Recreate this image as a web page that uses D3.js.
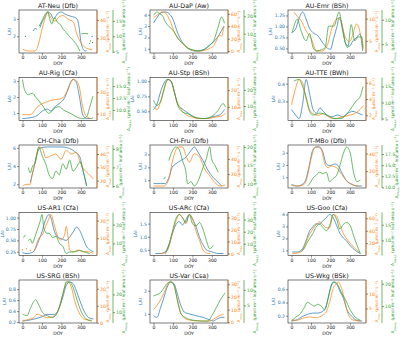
<!DOCTYPE html>
<html><head><meta charset="utf-8">
<script src="https://cdn.jsdelivr.net/npm/d3@7"></script>
<style>body{margin:0;background:#fff} text{font-family:"DejaVu Sans",sans-serif}</style>
</head><body><svg id="c" width="400" height="337"></svg>
<script>
const sites = ["AT-Neu (Dfb)","AU-DaP (Aw)","AU-Emr (BSh)","AU-Rig (Cfa)","AU-Stp (BSh)","AU-TTE (BWh)",
 "CH-Cha (Dfb)","CH-Fru (Dfb)","IT-MBo (Dfb)","US-AR1 (Cfa)","US-ARc (Cfa)","US-Goo (Cfa)",
 "US-SRG (BSh)","US-Var (Csa)","US-Wkg (BSk)"];
const xTicks = ["0","100","200","300"];
const laiTicks = [["1","2","3"],["1","2","3","4"],["0.50","0.75","1.00","1.25"],["1","2","3"],["0.50","0.75","1.00"],["0.3","0.4"],
 ["2","4","6"],["1","2","3"],["1","2","3"],["0.25","0.50","0.75","1.00"],["0.5","1.0","1.5","2.0"],["1","2","3","4"],
 ["0.2","0.4","0.6","0.8"],["1","2"],["0.2","0.4","0.6"]];
const amaxTicks = [["20","40"],["0","20","40","60"],["5","10"],["10","20"],["10","20"],["2","4","6"],
 ["20","30","40"],["20","40"],["0","20","40"],["10","20"],["0","10","20","30"],["20","40","60"],
 ["0","10","20"],["0","10","20","30"],["5","10"]];
const amaxLTicks = [["5","10","15"],["10","20"],["5","10"],["10.0","12.5","15.0"],["10","20"],["5","10","15"],
 ["6","7","8"],["10","15","20"],["10.0","12.5","15.0","17.5"],["10","20"],["0","10","20","30"],["5","10","15"],
 ["10","20"],["5","10"],["10","20"]];

// LAI series [DOY, value]; null = gap
const laiSeries = [
 [[15,2.0],[20,null],[55,2.3],[65,2.45],[75,2.4],[80,null],[90,2.5],[100,2.8],[115,3.1],[130,3.4],[145,3.3],[160,3.0],[180,3.3],[200,3.4],[215,3.3],[235,3.2],[250,3.15],[265,3.1],[280,3.0],[290,2.6],[300,1.7],[310,1.3],[322,1.15],[330,1.2],[335,null],[345,1.6],[350,null],[358,2.0]],
 [[1,3.3],[20,3.8],[40,4.2],[60,4.25],[80,4.1],[100,3.6],[120,2.6],[140,1.8],[160,1.3],[180,1.0],[200,0.85],[220,0.8],[240,0.85],[260,0.95],[280,1.2],[300,1.5],[320,1.8],[340,2.3],[362,3.0]],
 [[0,0.86],[20,0.93],[40,1.2],[57,1.33],[75,1.17],[90,0.98],[110,0.86],[135,0.79],[160,0.63],[180,0.52],[200,0.48],[218,0.75],[235,1.02],[245,1.21],[262,0.98],[280,0.59],[298,0.55],[315,0.67],[335,0.75],[352,0.83],[366,0.44]],
 [[0,0.65],[40,0.7],[75,0.84],[102,1.12],[128,1.24],[146,1.12],[163,1.35],[189,1.59],[216,1.94],[235,2.5],[250,3.0],[262,3.1],[278,2.88],[292,2.06],[310,0.88],[330,0.65],[350,0.65],[362,0.7]],
 [[0,0.53],[18,0.62],[36,0.82],[54,0.97],[72,1.03],[90,1.0],[107,0.82],[125,0.62],[152,0.53],[179,0.47],[206,0.41],[233,0.38],[270,0.38],[304,0.41],[340,0.44],[365,0.53]],
 [[0,0.254],[21,0.224],[39,0.204],[57,0.284],[75,0.424],[93,0.344],[111,0.254],[129,0.234],[146,0.264],[164,0.244],[182,0.224],[209,0.214],[236,0.224],[263,0.214],[289,0.234],[316,0.244],[343,0.234],[365,0.224]],
 [[40,2.2],[58,3.8],[75,5.4],[93,6.0],[128,6.1],[163,6.1],[198,6.1],[233,6.0],[268,5.6],[295,5.0],[312,3.4],[330,1.8]],
 [[0,0.74],[35,0.74],[61,0.74],[79,1.21],[96,2.0],[114,2.26],[140,2.53],[167,2.79],[193,3.3],[210,3.58],[228,3.18],[254,2.53],[281,1.74],[307,1.21],[333,0.82],[351,0.55]],
 [[0,0.42],[30,0.28],[56,0.42],[74,0.83],[91,1.94],[109,3.19],[126,3.47],[144,3.47],[161,3.06],[179,2.08],[196,1.94],[223,2.08],[240,1.94],[258,1.39],[284,0.69],[310,0.42],[337,0.28],[363,0.28]],
 [[0,0.23],[23,0.21],[49,0.23],[67,0.32],[84,0.5],[102,0.71],[119,0.96],[137,1.07],[146,1.0],[163,0.71],[181,0.57],[198,0.54],[225,0.5],[242,0.57],[260,0.68],[277,0.79],[295,0.71],[312,0.54],[330,0.36],[347,0.29],[365,0.25]],
 [[9,0.36],[35,0.36],[61,0.43],[79,0.7],[96,1.1],[114,1.45],[132,1.58],[149,1.45],[167,1.65],[184,1.85],[202,1.65],[219,1.38],[237,0.97],[254,0.7],[272,0.5],[298,0.43],[333,0.36],[360,0.36]],
 [[4,0.87],[30,0.87],[56,1.13],[74,1.78],[91,2.56],[109,2.95],[126,3.21],[144,3.21],[161,3.47],[179,3.73],[196,4.0],[214,3.73],[232,3.08],[249,2.43],[267,2.04],[284,1.78],[302,1.39],[328,1.0],[354,0.74]],
 [[0,0.22],[40,0.24],[75,0.27],[102,0.3],[128,0.34],[163,0.34],[189,0.46],[207,0.65],[224,0.86],[242,0.93],[260,0.9],[277,0.77],[295,0.59],[321,0.37],[347,0.27],[365,0.26]],
 [[0,0.92],[18,0.85],[35,1.23],[53,1.69],[70,2.15],[88,2.38],[105,2.31],[123,1.85],[140,1.38],[158,1.08],[184,1.0],[219,0.92],[254,0.85],[289,0.74],[307,0.69],[324,0.77],[351,0.85],[365,0.85]],
 [[0,0.12],[30,0.14],[56,0.19],[82,0.22],[109,0.24],[135,0.24],[161,0.27],[179,0.35],[196,0.57],[214,0.71],[232,0.68],[249,0.57],[267,0.46],[284,0.3],[310,0.19],[337,0.13],[363,0.12]]
];
// canopy Amax series
const amaxSeries = [
 [[1,8],[20,6.5],[40,6],[60,6],[70,7],[80,12],[95,25],[110,38],[122,46],[130,49],[140,45],[155,40],[168,39],[185,43],[208,45],[235,41],[261,38],[279,25],[305,13.6],[330,9],[358,7.5]],
 [[1,54],[20,58],[45,63],[60,62],[75,55],[90,45],[105,32],[127,20],[155,10],[180,4],[200,1],[230,0],[255,0.5],[285,4],[310,9],[325,18],[337,26],[350,24],[362,40]],
 [[12,11.5],[30,10.5],[48,9.6],[75,7.3],[102,5.4],[129,2.7],[155,2.7],[182,3.8],[209,8],[236,10],[254,9.6],[271,6.5],[298,4.8],[316,6.5],[334,8.8],[352,6.9],[368,3.1]],
 [[0,9.5],[40,9.5],[75,13],[102,14.7],[128,15.6],[163,16.5],[189,16.8],[216,18.2],[242,23.5],[260,26],[275,25.5],[292,22.5],[310,13],[330,8.6],[355,7.7]],
 [[0,10.4],[18,8.3],[45,16.8],[63,24.3],[81,26.4],[98,23.2],[116,14.7],[143,8.3],[170,5.1],[197,4],[233,3],[277,3],[322,4],[349,4.5],[370,6.2]],
 [[0,3.3],[21,5.3],[39,6.4],[57,6.0],[75,4],[93,2.7],[111,2.2],[138,2],[164,2.2],[191,1.8],[227,1.6],[263,1.8],[298,2],[325,2.2],[352,2.7],[370,3.2]],
 [[0,16],[23,17.3],[40,17.3],[49,24],[67,34.7],[84,45.3],[102,44],[119,37.3],[146,38.7],[172,40],[198,36],[225,42.7],[251,40],[277,41.3],[295,34.7],[312,29.3],[338,25.3],[365,21.3]],
 [[0,4.4],[53,4.4],[79,13.3],[96,35.6],[114,51.1],[131,55.6],[149,55.6],[167,44.4],[184,35.6],[210,46.7],[237,42.2],[263,26.7],[289,17.8],[316,8.9],[342,4.4],[368,5.8]],
 [[0,3.8],[30,3.0],[65,4.9],[82,14.3],[100,33.2],[118,46.4],[135,47.5],[153,44.5],[170,29.4],[188,23.8],[205,25.7],[232,23.8],[258,16.2],[284,8.7],[310,4.9],[346,3]],
 [[0,3.5],[5,null],[20,4],[25,null],[40,3],[45,null],[60,2.5],[67,4.8],[84,10],[102,11.9],[119,16.7],[137,21.5],[146,23.5],[163,17.7],[181,11],[198,9],[216,11.9],[225,16.7],[233,11.9],[242,3.3],[260,2.3],[286,3.3],[312,2.3],[338,2.3],[365,1.3]],
 [[35,0],[61,0.5],[79,5.6],[96,15.9],[114,26.2],[132,32.6],[149,30],[167,24.9],[184,32.6],[202,28.7],[219,18.5],[237,10.8],[254,3.1],[272,0.5],[290,0]],
 [[4,3.3],[39,4.8],[56,8.1],[74,21],[91,32.9],[109,42.4],[126,49.5],[144,54.3],[161,49.5],[179,44.8],[196,44.8],[214,66.2],[232,63.8],[249,49.5],[267,35.2],[293,23.3],[319,13.8],[345,6.7]],
 [[0,1],[32,2],[58,3],[75,5],[102,4],[128,3],[163,4],[189,9],[207,17],[224,23],[233,24],[251,21],[268,13],[295,5],[321,2],[356,1.4]],
 [[0,10],[26,15.1],[53,22.8],[70,29.2],[88,31.8],[105,29.2],[123,17.7],[140,7.4],[158,3.6],[184,1.8],[237,1],[289,1],[307,2.3],[333,4.9],[360,6.2]],
 [[0,1.1],[30,1.1],[56,1.7],[91,2.2],[126,1.9],[161,2.8],[179,3.9],[196,7.2],[214,11.7],[232,13.3],[240,13.9],[258,11.7],[275,7.2],[293,2.8],[319,1.1],[354,0.8]]
];
// leaf-level Amax series
const amaxLSeries = [
 [[85,13.2],[100,15],[115,17],[130,17.9],[140,15.5],[150,14],[165,16],[180,14.5],[195,13.8],[210,12.2],[225,11.2],[240,10],[255,9],[270,8],[285,6.5],[295,5.2],[298,null],[302,10.8],[320,10.9],[338,10.8],[342,null],[350,8.5],[354,null],[360,8]],
 [[1,20.6],[18,22.5],[30,21.5],[45,20.6],[60,17],[80,14],[100,12],[127,7],[155,4],[180,1.5],[200,0.8],[230,0],[255,0.5],[285,3],[310,6],[330,13],[350,19.6],[365,16]],
 [[4,7.4],[30,10.1],[48,7.9],[75,5.7],[93,7.2],[111,4.3],[129,3.6],[155,3.9],[173,4.3],[191,8.7],[218,8.7],[245,11.6],[262,7.9],[289,4.3],[307,9.0],[325,5.7],[343,6.5],[361,6.5],[368,4.3]],
 [[0,16.4],[10,14.3],[30,13.2],[50,13.5],[70,12.6],[100,11.1],[118,10],[135,9.3],[153,9.8],[170,10.5],[190,10.7],[210,10],[230,9.6],[250,9.2],[285,8.4],[310,8.2],[330,8.6],[345,10.5],[362,12.9]],
 [[0,13.6],[18,10.4],[36,12.6],[54,20],[72,26.4],[90,25.3],[107,18.9],[125,10.4],[152,6.2],[179,5.1],[215,3],[260,2.3],[304,4],[331,7.2],[358,11.5],[370,9.4]],
 [[12,16.7],[39,17.2],[57,15],[75,11.7],[93,7.2],[111,6.1],[146,6.7],[182,6.1],[218,5],[254,5],[280,6.1],[307,8.3],[334,10.6],[352,11.7],[368,15]],
 [[30,7],[40,6.7],[49,7],[67,7.3],[84,8.1],[102,7.6],[119,7.2],[137,6.6],[154,6.4],[172,6.8],[189,6.6],[207,7.2],[225,6.9],[242,7.4],[260,6.8],[277,7],[295,7.3],[312,6.8],[330,6]],
 [[53,11.3],[61,11.9],[70,null],[79,16.3],[96,18.8],[114,20],[131,19.4],[149,16.3],[167,13.1],[175,10],[193,10.6],[210,9.4],[228,10.6],[254,14.4],[272,16.9],[289,20],[298,16.9],[316,15],[333,13.1]],
 [[82,10.3],[96,11.0],[109,12],[126,12.7],[144,13.4],[161,13.1],[179,13.4],[196,11.3],[214,12],[232,12.7],[249,14.9],[267,17.7],[284,19.1],[302,17.7],[319,13.4],[337,11.3],[354,11.7]],
 [[5,13.1],[15,14.6],[22,null],[30,11.5],[40,12.3],[50,10],[60,12.3],[75,16.9],[90,21.5],[100,25.4],[110,18],[125,15.4],[137,15.4],[155,13.1],[172,13.8],[190,10],[207,8.5],[225,4.6],[242,5.4],[260,5.4],[295,6.2],[320,5.4],[345,4.6]],
 [[61,1.9],[79,8.6],[96,19.5],[114,30.3],[132,34.3],[149,31.6],[167,27.6],[184,34.3],[202,26.2],[219,24.9],[237,27.6],[254,22.2],[272,12.7],[289,5.9],[307,8.6]],
 [[47,6.4],[65,7.4],[82,9.5],[109,12.1],[126,14.2],[144,15.2],[161,14.2],[179,13.1],[196,14.7],[214,18.3],[232,16.8],[249,13.6],[267,15.2],[284,15.7],[302,14.7],[319,11.6],[337,8.4],[354,5.8]],
 [[0,9],[23,8],[40,12],[58,16],[67,17],[84,14],[102,10],[128,8],[154,7],[180,10],[198,16],[216,24],[224,27],[242,27],[260,24],[277,18],[303,10],[330,6],[356,5]],
 [[0,8],[18,8.5],[35,9],[53,10.5],[70,12],[88,12.5],[105,11.5],[123,6.5],[140,2.5],[167,1],[202,0.3],[254,0],[280,0],[298,1.5],[316,3.5],[333,5.5],[351,7.5],[368,9]],
 [[0,3.3],[21,5],[47,6.7],[65,9.2],[82,11.7],[100,10.8],[117,10],[135,10.8],[153,10],[170,8.3],[188,13.3],[205,19.2],[223,20.8],[240,19.2],[258,15.8],[275,13.3],[302,8.3],[328,5],[354,3.7]]
];

const C = {lai:"#1f77b4", amax:"#ff7f0e", amaxL:"#2ca02c", frame:"#222"};
const svg = d3.select("#c");
const colLeft = [19,150,288], W = 78, H = 43;
const rowTop = r => 10 + r*67.5;
const FS = 4.6;

function richText(sel, segs){
  let off = 0;
  segs.forEach(([t,k])=>{
    const target = k==='sub' ? 1.2 : k==='sup' ? -1.6 : 0;
    const ts = sel.append("tspan").text(t).attr("dy", target-off);
    if(k) ts.attr("font-size","0.7em");
    off = target;
  });
}
function padDomain(series){
  const v = series.filter(d=>d[1]!=null).map(d=>d[1]);
  const [a,b] = d3.extent(v); const m=(b-a)*0.05; return [a-m,b+m];
}

sites.forEach((name,i)=>{
  const r = Math.floor(i/3), c = i%3;
  const x0 = colLeft[c];
  const g = svg.append("g").attr("transform",`translate(${x0},${rowTop(r)})`);
  const x = d3.scaleLinear().domain([-18,383]).range([0,W]);
  const yL = d3.scaleLinear().domain(padDomain(laiSeries[i])).range([H,0]);
  const yA = d3.scaleLinear().domain(padDomain(amaxSeries[i])).range([H,0]);
  const yG = d3.scaleLinear().domain(padDomain(amaxLSeries[i])).range([H,0]);

  const cid = "clip"+i;
  g.append("clipPath").attr("id",cid).append("rect").attr("width",W).attr("height",H);
  const plot = g.append("g").attr("clip-path",`url(#${cid})`);

  [[laiSeries[i],yL,C.lai],[amaxSeries[i],yA,C.amax],[amaxLSeries[i],yG,C.amaxL]].forEach(([s,y,col])=>{
    const line = d3.line().defined(d=>d[1]!=null).x(d=>x(d[0])).y(d=>y(d[1])).curve(d3.curveMonotoneX);
    plot.append("path").attr("d",line(s)).attr("fill","none").attr("stroke",col).attr("stroke-width",0.8).attr("stroke-opacity",0.9);
    s.forEach((d,j)=>{
      if(d[1]==null) return;
      const prev = s[j-1], next = s[j+1];
      if((!prev||prev[1]==null)&&(!next||next[1]==null))
        plot.append("circle").attr("cx",x(d[0])).attr("cy",y(d[1])).attr("r",0.6).attr("fill",col);
    });
  });

  g.append("rect").attr("width",W).attr("height",H).attr("fill","none").attr("stroke",C.frame).attr("stroke-width",0.6);
  g.append("line").attr("x1",W).attr("x2",W).attr("y1",0).attr("y2",H).attr("stroke",C.amax).attr("stroke-width",0.7);
  const gx = W+16;
  g.append("line").attr("x1",gx).attr("x2",gx).attr("y1",0).attr("y2",H).attr("stroke",C.amaxL).attr("stroke-width",0.7);

  function styleAxis(ax, col){
    ax.select(".domain").remove();
    ax.selectAll("line").attr("stroke",C.frame).attr("stroke-width",0.5);
    ax.selectAll("text").attr("fill",col).attr("font-size",FS).attr("font-family","DejaVu Sans");
  }
  const ax = g.append("g").attr("transform",`translate(0,${H})`)
    .call(d3.axisBottom(x).tickValues(xTicks.map(Number)).tickFormat((d,k)=>xTicks[k]).tickSize(2).tickPadding(1));
  styleAxis(ax,"#222");
  const lt = laiTicks[i].filter(t=>{const v=+t, d=yL.domain(); return v>=d[0]&&v<=d[1];});
  const al = g.append("g").call(d3.axisLeft(yL).tickValues(lt.map(Number)).tickFormat((d,k)=>lt[k]).tickSize(2).tickPadding(1));
  styleAxis(al,C.lai);
  const ot = amaxTicks[i].filter(t=>{const v=+t, d=yA.domain(); return v>=d[0]&&v<=d[1];});
  const ao = g.append("g").attr("transform",`translate(${W},0)`)
    .call(d3.axisRight(yA).tickValues(ot.map(Number)).tickFormat((d,k)=>ot[k]).tickSize(2).tickPadding(1));
  styleAxis(ao,C.amax);
  const gt = amaxLTicks[i].filter(t=>{const v=+t, d=yG.domain(); return v>=d[0]&&v<=d[1];});
  const ag = g.append("g").attr("transform",`translate(${gx},0)`)
    .call(d3.axisRight(yG).tickValues(gt.map(Number)).tickFormat((d,k)=>gt[k]).tickSize(2).tickPadding(1));
  styleAxis(ag,C.amaxL);

  const maxW = sel => { let m=0; sel.selectAll("text").each(function(){ m=Math.max(m,this.getComputedTextLength()); }); return m; };
  const wl = maxW(al), wo = maxW(ao), wg = maxW(ag);

  g.append("text").attr("x",W/2).attr("y",-2.5).attr("text-anchor","middle").attr("font-size",6.3).attr("fill","#111").text(name);
  g.append("text").attr("x",W/2).attr("y",H+12).attr("text-anchor","middle").attr("font-size",FS).attr("fill","#111").text("DOY");
  const lx = Math.max(-(wl+5.5), -x0+3.5);
  g.append("text").attr("transform",`translate(${lx},${H/2}) rotate(-90)`).attr("text-anchor","middle")
    .attr("font-size",FS).attr("fill",C.lai).text("LAI");
  const t1 = g.append("text").attr("transform",`translate(${W+wo+6.5},${H/2}) rotate(-90)`).attr("text-anchor","middle")
    .attr("font-size",4.2).attr("fill",C.amax);
  richText(t1,[["A"],["max","sub"],[" (μmol m"],["−2","sup"],[" s"],["−1","sup"],[")"]]);
  const grx = Math.min(gx+wg+6.5, 400-x0-2.2);
  const t2 = g.append("text").attr("transform",`translate(${grx},${H/2}) rotate(-90)`).attr("text-anchor","middle")
    .attr("font-size",4.2).attr("fill",C.amaxL);
  richText(t2,[["A"],["max,L","sub"],[" (μmol m"],["−2","sup"],[" leaf area s"],["−1","sup"],[")"]]);
});
</script></body></html>
